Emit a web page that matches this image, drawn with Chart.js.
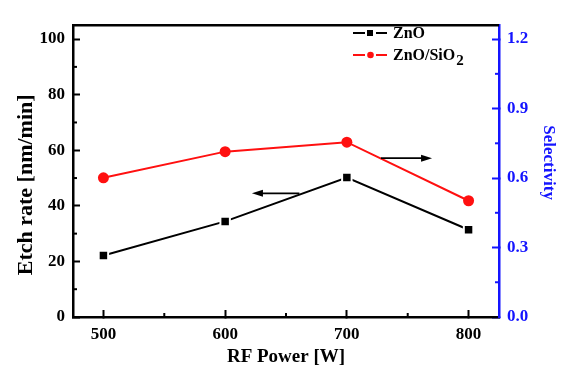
<!DOCTYPE html>
<html>
<head>
<meta charset="utf-8">
<script src="https://cdn.jsdelivr.net/npm/chart.js@4.4.1/dist/chart.umd.min.js"></script>
<style>
  html, body { margin: 0; padding: 0; background: #fff; }
</style>
</head>
<body>
<canvas id="chart" width="568" height="369"></canvas>
<script>
// data
const powers = [500, 600, 700, 800];
const etchZnO = [22.1, 34.4, 50.2, 31.4];
const selectivity = [0.601, 0.714, 0.755, 0.502];

// ticks
const xTicks = [500, 600, 700, 800];
const xMinor = [550, 650, 750];
const etchTicks = [0, 20, 40, 60, 80, 100];
const etchMinor = [10, 30, 50, 70, 90];
const selTicks = [0, 0.3, 0.6, 0.9, 1.2];
const selMinor = [0.15, 0.45, 0.75, 1.05];

// arrows pointing to the axis of each curve (data coordinates)
const arrows = [
    { axis: 'y', y: 44.5, from: 661, to: 622 },
    { axis: 'y1', y: 0.686, from: 728, to: 770 }
];

const serif = '"Liberation Serif", "Times New Roman", serif';
const blue = '#1414ff';
const red = '#ff1010';

// minor ticks, top frame line, arrows and legend
const extras = {
    id: 'extras',
    afterDraw(chart) {
        const ctx = chart.ctx;
        const a = chart.chartArea;
        const sx = chart.scales.x, sy = chart.scales.y, s1 = chart.scales.y1;
        ctx.save();
        ctx.lineWidth = 2;
        ctx.strokeStyle = '#000';
        xMinor.forEach(v => {
            const px = sx.getPixelForValue(v);
            ctx.beginPath(); ctx.moveTo(px, a.bottom); ctx.lineTo(px, a.bottom - 4); ctx.stroke();
        });
        etchMinor.forEach(v => {
            const py = sy.getPixelForValue(v);
            ctx.beginPath(); ctx.moveTo(a.left, py); ctx.lineTo(a.left + 4, py); ctx.stroke();
        });
        ctx.strokeStyle = blue;
        selMinor.forEach(v => {
            const py = s1.getPixelForValue(v);
            ctx.beginPath(); ctx.moveTo(a.right, py); ctx.lineTo(a.right - 4, py); ctx.stroke();
        });

        // top frame
        ctx.strokeStyle = '#000';
        ctx.lineWidth = 2.5;
        ctx.beginPath(); ctx.moveTo(a.left - 1, a.top); ctx.lineTo(a.right, a.top); ctx.stroke();

        // arrows
        ctx.lineWidth = 1.6;
        ctx.fillStyle = '#000';
        arrows.forEach(ar => {
            const py = chart.scales[ar.axis].getPixelForValue(ar.y);
            const x0 = sx.getPixelForValue(ar.from), x1 = sx.getPixelForValue(ar.to);
            const dir = Math.sign(x1 - x0);
            ctx.beginPath(); ctx.moveTo(x0, py); ctx.lineTo(x1 - dir * 8, py); ctx.stroke();
            ctx.beginPath();
            ctx.moveTo(x1, py);
            ctx.lineTo(x1 - dir * 11, py - 3.5);
            ctx.lineTo(x1 - dir * 11, py + 3.5);
            ctx.closePath(); ctx.fill();
        });

        // legend
        const rows = [33, 55];
        chart.data.datasets.forEach((ds, i) => {
            const y = rows[i];
            ctx.strokeStyle = ds.borderColor;
            ctx.fillStyle = ds.borderColor;
            ctx.lineWidth = 2;
            ctx.beginPath(); ctx.moveTo(353, y); ctx.lineTo(365, y); ctx.stroke();
            ctx.beginPath(); ctx.moveTo(376, y); ctx.lineTo(387, y); ctx.stroke();
            if (ds.pointStyle === 'rect') {
                ctx.fillRect(367, y - 3, 6, 6);
            } else {
                ctx.beginPath(); ctx.arc(370.5, y, 3.3, 0, Math.PI * 2); ctx.fill();
            }
            ctx.fillStyle = '#000';
            ctx.textBaseline = 'middle';
            ctx.font = 'bold 16px ' + serif;
            const m = ds.label.match(/^(.*?)(\d)$/);
            if (m) {
                ctx.fillText(m[1], 393, y + 1);
                const w = ctx.measureText(m[1]).width;
                ctx.font = 'bold 15px ' + serif;
                ctx.fillText(m[2], 393 + w + 1, y + 6);
            } else {
                ctx.fillText(ds.label, 393, y + 1);
            }
        });
        ctx.restore();
    }
};

const tickFont = { family: serif, size: 17, weight: 'bold' };

new Chart(document.getElementById('chart'), {
    type: 'line',
    data: {
        datasets: [
            {
                label: 'ZnO',
                data: powers.map((p, i) => ({ x: p, y: etchZnO[i] })),
                yAxisID: 'y',
                borderColor: '#000',
                backgroundColor: '#000',
                borderWidth: 2,
                pointStyle: 'rect',
                pointRadius: 6.7,
                pointBackgroundColor: '#000',
                pointBorderColor: '#fff',
                pointBorderWidth: 2,
                tension: 0
            },
            {
                label: 'ZnO/SiO2',
                data: powers.map((p, i) => ({ x: p, y: selectivity[i] })),
                yAxisID: 'y1',
                borderColor: red,
                backgroundColor: red,
                borderWidth: 2,
                pointStyle: 'circle',
                pointRadius: 5.5,
                pointBackgroundColor: red,
                pointBorderColor: red,
                pointBorderWidth: 0,
                tension: 0
            }
        ]
    },
    options: {
        responsive: false,
        animation: false,
        devicePixelRatio: 1,
        layout: { padding: { top: 11, left: 0, right: 0, bottom: 0 } },
        plugins: { legend: { display: false }, tooltip: { enabled: false } },
        scales: {
            x: {
                type: 'linear',
                position: 'bottom',
                min: 475,
                max: 825,
                afterBuildTicks: s => { s.ticks = xTicks.map(v => ({ value: v })); },
                afterFit: s => { s.height = 52; },
                ticks: { font: tickFont, color: '#000', padding: 14 },
                grid: { drawOnChartArea: false, tickLength: -7, tickWidth: 2, tickColor: '#000' },
                border: { color: '#000', width: 2.5 },
                title: {
                    display: true, text: 'RF Power [W]', color: '#000',
                    font: { family: serif, size: 19, weight: 'bold' },
                    padding: { top: 0, bottom: 1 }
                }
            },
            y: {
                position: 'left',
                min: 0,
                max: 105,
                afterBuildTicks: s => { s.ticks = etchTicks.map(v => ({ value: v })); },
                afterFit: s => { s.width = 73; },
                ticks: { font: tickFont, color: '#000', padding: 15 },
                grid: { drawOnChartArea: false, tickLength: -7, tickWidth: 2, tickColor: '#000' },
                border: { color: '#000', width: 2.5 },
                title: {
                    display: true, text: 'Etch rate [nm/min]' + '\u00a0'.repeat(5), color: '#000',
                    font: { family: serif, size: 22, weight: 'bold' },
                    padding: { top: 13, bottom: 0 }
                }
            },
            y1: {
                position: 'right',
                min: 0,
                max: 1.26,
                afterBuildTicks: s => { s.ticks = selTicks.map(v => ({ value: v })); },
                afterFit: s => { s.width = 69; },
                ticks: { font: tickFont, color: blue, padding: 15, callback: v => v.toFixed(1) },
                grid: { drawOnChartArea: false, tickLength: -7, tickWidth: 2, tickColor: blue },
                border: { color: blue, width: 2.5 },
                title: {
                    display: true, text: 'Selectivity' + '\u00a0'.repeat(4), color: blue,
                    font: { family: serif, size: 17, weight: 'bold' },
                    padding: { top: 9, bottom: 0 }
                }
            }
        }
    },
    plugins: [extras]
});
</script>
</body>
</html>
